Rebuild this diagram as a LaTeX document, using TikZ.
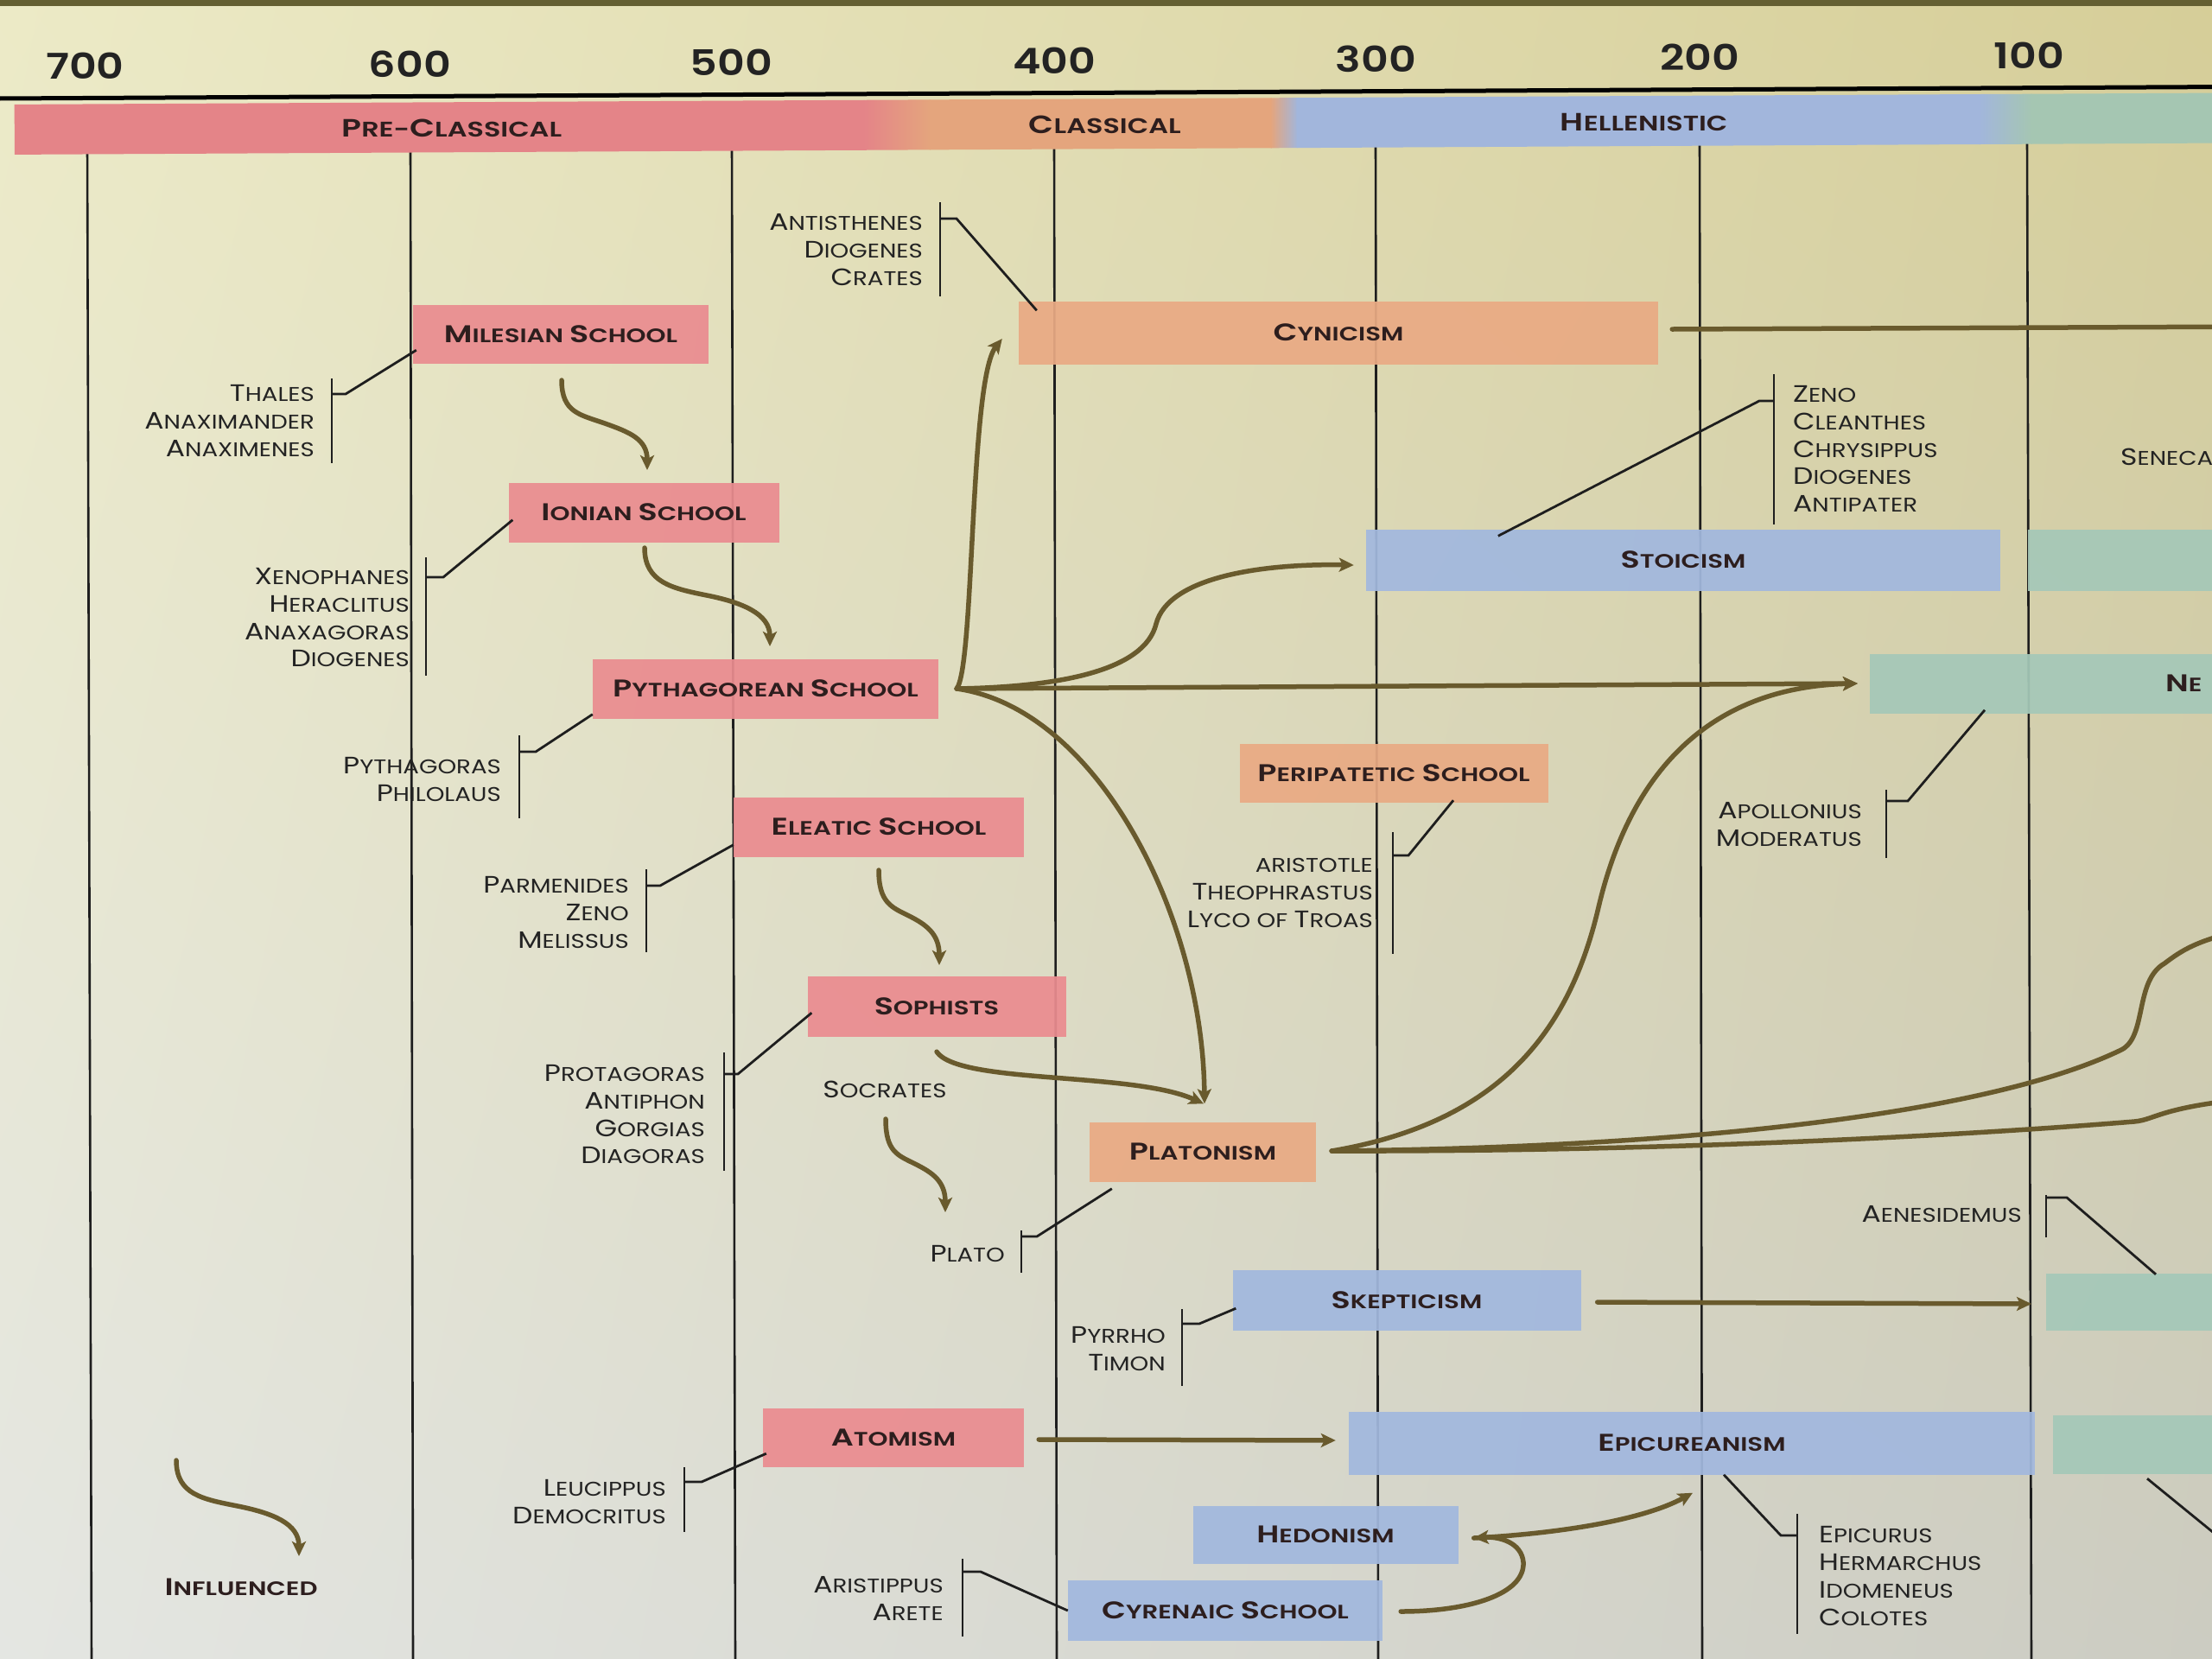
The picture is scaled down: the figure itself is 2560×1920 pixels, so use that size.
\documentclass[tikz,border=0pt]{standalone}
\usepackage{fontspec}
\setmainfont{Poppins}[FakeStretch=1.2, BoldFont={Poppins SemiBold}]
\newfontfamily\widefam{Poppins}[FakeStretch=1.3, BoldFont={Poppins SemiBold}]
\usetikzlibrary{arrows.meta,calc,shadings}
\definecolor{bgTL}{RGB}{236,234,198}
\definecolor{bgTR}{RGB}{214,206,152}
\definecolor{bgBL}{RGB}{228,230,226}
\definecolor{bgBR}{RGB}{204,204,194}
\definecolor{cpink}{RGB}{234,140,144}
\definecolor{corange}{RGB}{233,170,132}
\definecolor{cblue}{RGB}{162,184,222}
\definecolor{cgreen}{RGB}{165,200,184}
\definecolor{bpink}{RGB}{228,132,136}
\definecolor{borange}{RGB}{228,165,125}
\definecolor{bblue}{RGB}{162,182,220}
\definecolor{bgreen}{RGB}{165,198,178}
\definecolor{arrowc}{RGB}{105,90,45}
\definecolor{gridc}{RGB}{30,30,30}
\definecolor{namec}{RGB}{35,35,35}
\definecolor{schoolc}{RGB}{45,30,30}
\definecolor{framec}{RGB}{100,95,50}
\newcommand\bigsz{28pt}
\newcommand\bg[1]{{\fontsize{\bigsz}{\bigsz}\selectfont #1}}
\begin{document}
\begin{tikzpicture}[x=1pt,y=-1pt,
  grid/.style={draw=gridc, line width=2.6pt},
  brk/.style={draw=gridc, line width=2.8pt},
  conn/.style={draw=arrowc, line width=5.5pt, line cap=round},
  arr/.style={conn, -{Stealth[length=17pt,width=16pt,inset=4pt]}},
  schoolfont/.style={font={\widefam\def\bigsz{28pt}\fontsize{22.5pt}{27pt}\selectfont\bfseries}, text=schoolc},
  boxbase/.style={rectangle, inner sep=0pt, schoolfont, fill opacity=0.93, text opacity=1},
  pinkbox/.style={boxbase, fill=cpink},
  orangebox/.style={boxbase, fill=corange},
  bluebox/.style={boxbase, fill=cblue},
  greenbox/.style={boxbase, fill=cgreen},
  names/.style={inner sep=0pt, text=namec, font={\def\bigsz{27.5pt}\fontsize{23pt}{31.7pt}\selectfont}},
  namesR/.style={names, align=right, anchor=north east},
  namesL/.style={names, align=left, anchor=north west},
  yearfont/.style={inner sep=0pt, text=namec, font={\fontsize{41pt}{41pt}\selectfont\bfseries}},
  bandfont/.style={inner sep=0pt, text=schoolc, font={\widefam\def\bigsz{29pt}\fontsize{24.5pt}{29pt}\selectfont\bfseries}}
]
\useasboundingbox (0,0) rectangle (2560,1920);
\clip (0,0) rectangle (2560,1920);
% background
\shade[upper left=bgTL, upper right=bgTR, lower left=bgBL, lower right=bgBR] (0,0) rectangle (2560,1920);
\fill[framec] (0,0) rectangle (2560,7);
% timeline verticals
\foreach \a/\b in {101/106, 475/478, 847/851, 1220/1223, 1592/1595, 1967/1970, 2346/2351}
  \draw[grid] (\a,165) -- (\b,1925);
% header band
\begin{scope}[rotate around={0.3:(0,0)}]
  \draw[draw=black, line width=5pt] (-10,114) -- (2600,114);
  \fill[bpink] (16,121) rectangle (1000,179);
  \shade[left color=bpink, right color=borange] (999,121) rectangle (1076,179);
  \fill[borange] (1075,121) rectangle (1471,179);
  \shade[left color=borange, right color=bblue] (1470,121) rectangle (1501,179);
  \fill[bblue] (1500,121) rectangle (2291,179);
  \shade[left color=bblue, right color=bgreen] (2290,121) rectangle (2351,179);
  \fill[bgreen] (2350,121) rectangle (2620,179);
  \node[bandfont] (pre) at (522,151) {\bg{P}RE-\bg{C}LASSICAL};
  \node[bandfont] (cla) at (1278,151) {\bg{C}LASSICAL};
  \node[bandfont] (hel) at (1902,151) {\bg{H}ELLENISTIC};
  \node[yearfont] (y700) at (98,77) {700};
  \node[yearfont] (y600) at (474,77) {600};
  \node[yearfont] (y500) at (846,77) {500};
  \node[yearfont] (y400) at (1220,77) {400};
  \node[yearfont] (y300) at (1592,77) {300};
  \node[yearfont] (y200) at (1967,77) {200};
  \node[yearfont] (y100) at (2348,77) {100};
\end{scope}
% school boxes
\node[pinkbox, minimum width=342pt, minimum height=68pt] (mil) at (649,387) {\bg{M}ILESIAN \bg{S}CHOOL};
\node[pinkbox, minimum width=313pt, minimum height=69pt] (ion) at (745,593) {\bg{I}ONIAN \bg{S}CHOOL};
\node[pinkbox, minimum width=400pt, minimum height=69pt] (pyth) at (886,797) {\bg{P}YTHAGOREAN \bg{S}CHOOL};
\node[pinkbox, minimum width=336pt, minimum height=69pt] (ele) at (1017,957) {\bg{E}LEATIC \bg{S}CHOOL};
\node[pinkbox, minimum width=299pt, minimum height=70pt] (soph) at (1084,1165) {\bg{S}OPHISTS};
\node[pinkbox, minimum width=302pt, minimum height=68pt] (atom) at (1034,1664) {\bg{A}TOMISM};
\node[orangebox, minimum width=740pt, minimum height=73pt] (cyn) at (1549,385) {\bg{C}YNICISM};
\node[orangebox, minimum width=262pt, minimum height=69pt] (plat) at (1392,1333) {\bg{P}LATONISM};
\node[orangebox, minimum width=357pt, minimum height=68pt] (peri) at (1613,895) {\bg{P}ERIPATETIC \bg{S}CHOOL};
\node[bluebox, minimum width=734pt, minimum height=71pt] (sto) at (1948,648) {\bg{S}TOICISM};
\node[bluebox, minimum width=403pt, minimum height=70pt] (skep) at (1628,1505) {\bg{S}KEPTICISM};
\node[bluebox, minimum width=794pt, minimum height=73pt] (epi) at (1958,1670) {\bg{E}PICUREANISM};
\node[bluebox, minimum width=307pt, minimum height=67pt] (hed) at (1534,1776) {\bg{H}EDONISM};
\node[bluebox, minimum width=364pt, minimum height=70pt] (cyr) at (1418,1864) {\bg{C}YRENAIC \bg{S}CHOOL};
\node[greenbox, anchor=west, minimum width=300pt, minimum height=71pt] (gsto) at (2347,648) {};
\node[greenbox, anchor=west, minimum width=450pt, minimum height=69pt] (neo) at (2164,791) {};
\node[schoolfont, inner sep=0pt, anchor=west] (neotxt) at (2506,791) {\bg{N}E};
\node[greenbox, anchor=west, minimum width=300pt, minimum height=66pt] (gskep) at (2368,1507) {};
\node[greenbox, anchor=west, minimum width=300pt, minimum height=68pt] (gepi) at (2376,1672) {};
% member lists
\node[namesR] (thales) at (364,445.5) {\bg{T}HALES\\\bg{A}NAXIMANDER\\\bg{A}NAXIMENES};
\node[namesR] (xeno) at (474,657.5) {\bg{X}ENOPHANES\\\bg{H}ERACLITUS\\\bg{A}NAXAGORAS\\\bg{D}IOGENES};
\node[namesR] (pyname) at (580,876.5) {\bg{P}YTHAGORAS\\\bg{P}HILOLAUS};
\node[namesR] (parm) at (728,1014.5) {\bg{P}ARMENIDES\\\bg{Z}ENO\\\bg{M}ELISSUS};
\node[namesR] (prot) at (816,1232.5) {\bg{P}ROTAGORAS\\\bg{A}NTIPHON\\\bg{G}ORGIAS\\\bg{D}IAGORAS};
\node[names] (socr) at (1024,1261) {\bg{S}OCRATES};
\node[namesR] (plato) at (1163,1441.5) {\bg{P}LATO};
\node[namesR] (antis) at (1068,247.5) {\bg{A}NTISTHENES\\\bg{D}IOGENES\\\bg{C}RATES};
\node[namesL] (zeno) at (2075,446.5) {\bg{Z}ENO\\\bg{C}LEANTHES\\\bg{C}HRYSIPPUS\\\bg{D}IOGENES\\\bg{A}NTIPATER};
\node[namesR] (arist) at (1589,993.5) {ARISTOTLE\\\bg{T}HEOPHRASTUS\\\bg{L}YCO OF \bg{T}ROAS};
\node[namesR] (apol) at (2155,928.5) {\bg{A}POLLONIUS\\\bg{M}ODERATUS};
\node[namesL] (sene) at (2454,518.5) {\bg{S}ENECA};
\node[namesR] (aene) at (2340,1395.5) {\bg{A}ENESIDEMUS};
\node[namesR] (pyrr) at (1349,1535.5) {\bg{P}YRRHO\\\bg{T}IMON};
\node[namesR] (leuc) at (771,1712.5) {\bg{L}EUCIPPUS\\\bg{D}EMOCRITUS};
\node[namesR] (aristi) at (1092,1824.5) {\bg{A}RISTIPPUS\\\bg{A}RETE};
\node[namesL] (epic) at (2105,1766.5) {\bg{E}PICURUS\\\bg{H}ERMARCHUS\\\bg{I}DOMENEUS\\\bg{C}OLOTES};
\node[schoolfont, inner sep=0pt] (infl) at (279,1837) {\bg{I}NFLUENCED};
% brackets
\draw[brk] (384,438) -- (384,536);  \draw[brk] (384,456) -- (400,456) -- ($(mil.south west)+(4,-16)$);
\draw[brk] (493,645) -- (493,782);  \draw[brk] (493,668) -- (513,668) -- ($(ion.south west)+(5,-26)$);
\draw[brk] (601,851) -- (601,947);  \draw[brk] (601,870) -- (620,870) -- ($(pyth.south west)+(0,-5)$);
\draw[brk] (748,1006) -- (748,1102); \draw[brk] (748,1025) -- (764,1025) -- ($(ele.south west)+(0,-14)$);
\draw[brk] (838,1218) -- (838,1355); \draw[brk] (838,1243) -- (854,1243) -- ($(soph.south west)+(5,-28)$);
\draw[brk] (1182,1424) -- (1182,1473); \draw[brk] (1182,1431) -- (1200,1431) -- ($(plat.south west)+(26,8)$);
\draw[brk] (1088,234) -- (1088,343); \draw[brk] (1088,253) -- (1107,253) -- ($(cyn.north west)+(21,11)$);
\draw[brk] (2053,433) -- (2053,607); \draw[brk] (2053,464) -- (2036,464) -- ($(sto.north west)+(153,8)$);
\draw[brk] (1612,963) -- (1612,1104); \draw[brk] (1612,990) -- (1630,990) -- ($(peri.south)+(69,-3)$);
\draw[brk] (2183,914) -- (2183,993); \draw[brk] (2183,927) -- (2208,927) -- ($(neo.south west)+(133,-4)$);
\draw[brk] (2368,1383) -- (2368,1432); \draw[brk] (2368,1386) -- (2392,1386) -- ($(gskep.north west)+(127,1)$);
\draw[brk] (1368,1515) -- (1368,1604); \draw[brk] (1368,1532) -- (1388,1532) -- ($(skep.south west)+(4,-26)$);
\draw[brk] (792,1698) -- (792,1773); \draw[brk] (792,1715) -- (812,1715) -- ($(atom.south west)+(4,-16)$);
\draw[brk] (1114,1804) -- (1114,1894); \draw[brk] (1114,1819) -- (1135,1819) -- (cyr.west);
\draw[brk] (2080,1752) -- (2080,1891); \draw[brk] (2080,1777) -- (2061,1777) -- ($(epi.south)+(37,0)$);
\coordinate (edgeR) at (2600,1805);
\draw[brk] ($(gepi.south west)+(109,5)$) -- (edgeR);
% wavy influence arrows
\draw[arr] (650,440) .. controls +(0,38) and +(-28,-10) .. (700,490) .. controls +(28,10) and +(0,-36) .. (749,544);
\draw[arr] (746,634) .. controls +(0,40) and +(-40,-8) .. (818,689) .. controls +(40,8) and +(0,-38) .. (891,748);
\draw[arr] (1017,1007) .. controls +(0,38) and +(-20,-10) .. (1052,1060) .. controls +(20,10) and +(0,-36) .. (1087,1117);
\draw[arr] (1025,1295) .. controls +(0,38) and +(-20,-10) .. (1059,1347) .. controls +(20,10) and +(0,-36) .. (1094,1403);
\draw[arr] (204,1690) .. controls +(0,40) and +(-40,-8) .. (275,1743) .. controls +(40,8) and +(0,-38) .. (346,1801);
% Pythagorean fork
\coordinate (F) at ($(pyth.east)+(21,0)$);
\draw[arr] (F) .. controls (1128,770) and (1122,440) .. ($(cyn.west)+(-19,7)$);
\draw[arr] (F) .. controls (1230,795) and (1325,775) .. (1338,722) .. controls (1352,668) and (1460,652) .. ($(sto.west)+(-14,6)$);
\draw[arr] (F) -- ($(neo.west)+(-14,0)$);
\draw[arr] (F) .. controls (1270,820) and (1392,1060) .. ($(plat.north)+(2,-21)$);
\draw[arr] ($(soph.south)+(0,17)$) .. controls (1110,1255) and (1310,1240) .. ($(plat.north)+(1,-21)$);
% Platonism outputs
\coordinate (P) at ($(plat.east)+(18,-1)$);
\draw[arr] (P) .. controls (1730,1300) and (1815,1200) .. (1850,1050) .. controls (1890,880) and (1990,795) .. ($(neo.west)+(-14,0)$);
\draw[conn] (P) .. controls (1950,1328) and (2300,1290) .. (2455,1215) .. controls (2485,1200) and (2470,1135) .. (2505,1115) .. controls (2525,1100) and (2545,1085) .. (2620,1072);
\draw[conn] (P) .. controls (1950,1333) and (2300,1312) .. (2470,1298) .. controls (2495,1296) and (2500,1280) .. (2620,1270);
% other connectors
\draw[conn] ($(cyn.east)+(16,-4)$) -- (2620,378);
\draw[arr] ($(skep.east)+(19,2)$) -- ($(gskep.west)+(-17,2)$);
\draw[arr] ($(atom.east)+(17,2)$) -- ($(epi.west)+(-15,-3)$);
\coordinate (hd) at ($(hed.east)+(18,4)$);
\draw[arr] ($(cyr.east)+(21,1)$) .. controls (1700,1865) and (1765,1845) .. (1763,1808) .. controls (1761,1785) and (1735,1778) .. (hd);
\draw[arr] (hd) .. controls (1800,1775) and (1900,1760) .. ($(epi.south)+(1,21)$);
\end{tikzpicture}
\end{document}
